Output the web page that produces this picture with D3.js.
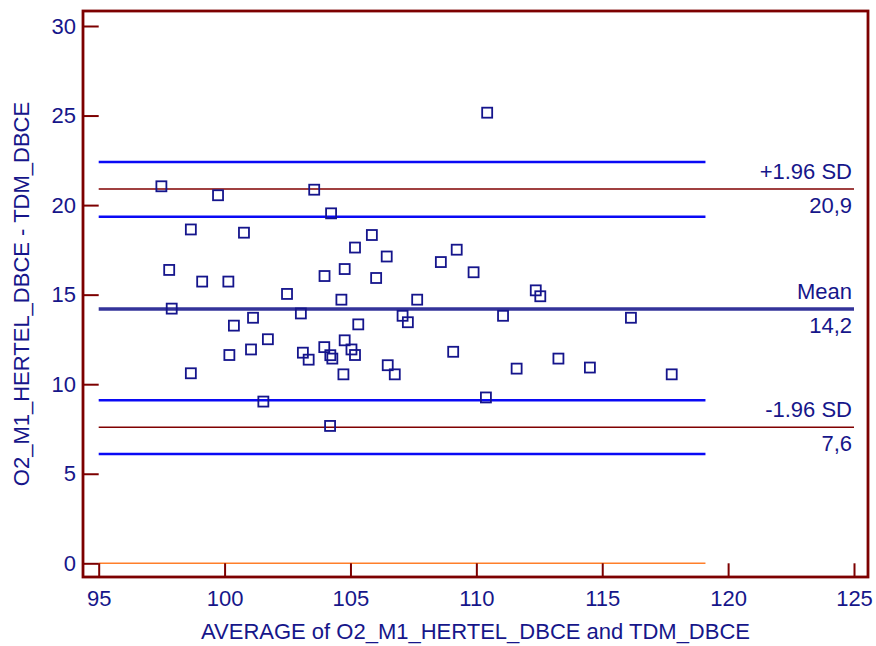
<!DOCTYPE html>
<html>
<head>
<meta charset="utf-8">
<script src="https://cdn.jsdelivr.net/npm/d3@7"></script>
<style>
  html, body { margin: 0; padding: 0; background: #ffffff; }
  svg { display: block; }
  text { font-family: "Liberation Sans", Arial, sans-serif; fill: #16168a; }
</style>
</head>
<body>
<svg id="chart" width="876" height="646"></svg>
<script>
// Bland-Altman plot: O2_M1_HERTEL_DBCE vs TDM_DBCE

// Mean of the two methods (x) for each subject
const averages = [
  97.49, 99.74, 103.56, 104.23, 98.66, 100.77, 105.85, 105.18, 109.22, 106.44,
  108.59, 97.80, 99.11, 100.15, 103.97, 104.77, 106.02, 109.89, 102.48, 104.64,
  107.65, 112.36, 112.54, 97.90, 103.03, 107.07, 107.28, 111.06, 116.14, 101.13,
  100.37, 105.31, 101.72, 104.77, 101.05, 100.19, 103.11, 103.34, 103.96, 104.20,
  104.28, 105.04, 105.18, 109.08, 106.48, 106.76, 98.66, 104.72, 111.60, 113.26,
  114.51, 117.76, 101.54, 110.38, 104.19, 110.43
];

// Difference between the two methods (y) for each subject
const differences = [
  21.05, 20.55, 20.86, 19.54, 18.64, 18.46, 18.33, 17.63, 17.51, 17.13,
  16.82, 16.38, 15.73, 15.73, 16.04, 16.43, 15.93, 16.25, 15.04, 14.72,
  14.72, 15.24, 14.91, 14.22, 13.95, 13.82, 13.46, 13.82, 13.71, 13.71,
  13.27, 13.34, 12.51, 12.45, 11.94, 11.63, 11.76, 11.37, 12.07, 11.62,
  11.43, 11.94, 11.63, 11.81, 11.06, 10.55, 10.61, 10.55, 10.87, 11.43,
  10.93, 10.55, 9.03, 9.26, 7.67, 25.16
];

// Agreement statistics
const limitNames  = ["+1.96 SD", "Mean", "-1.96 SD"];
const limitValues = [20.9, 14.2, 7.6];
// 95% confidence bounds of the upper and lower limits of agreement
const limitCIBounds = [22.4, 19.35, 9.1, 6.1];

// Horizontal extent (in x units) of the reference lines
const refLineStart = 95;
const refLineEnd   = 119.1;
const limitLineEnd = 125;

// Axis ticks
const xTicks = [95, 100, 105, 110, 115, 120, 125];
const yTicks = [0, 5, 10, 15, 20, 25, 30];

const xTitle = "AVERAGE of O2_M1_HERTEL_DBCE and TDM_DBCE";
const yTitle = "O2_M1_HERTEL_DBCE - TDM_DBCE";

// ---------------------------------------------------------------
const svg = d3.select("#chart");
const frame = { left: 83, right: 868, top: 11, bottom: 577 };
const FONT = 22;
const ink = "#16168a";
const maroon = "#7d0000";

const x = d3.scaleLinear().domain([95, 125]).range([98.7, 854]);
const y = d3.scaleLinear().domain([0, 30]).range([563.3, 26]);

const locale = d3.formatLocale({ decimal: ",", thousands: ".", grouping: [3], currency: ["", ""] });
const fmt = locale.format(".1f");

// Reference lines
const g = svg.append("g");

// zero line
g.append("line")
  .attr("x1", x(refLineStart)).attr("x2", x(refLineEnd))
  .attr("y1", y(0)).attr("y2", y(0))
  .attr("stroke", "#ff7f2a").attr("stroke-width", 1.5);

// confidence bounds of the limits of agreement
g.selectAll("line.ci").data(limitCIBounds).join("line")
  .attr("class", "ci")
  .attr("x1", x(refLineStart)).attr("x2", x(refLineEnd))
  .attr("y1", d => y(d)).attr("y2", d => y(d))
  .attr("stroke", "#0a0af5").attr("stroke-width", 2.5);

// limits of agreement
g.selectAll("line.loa").data([limitValues[0], limitValues[2]]).join("line")
  .attr("class", "loa")
  .attr("x1", x(refLineStart)).attr("x2", x(limitLineEnd))
  .attr("y1", d => y(d)).attr("y2", d => y(d))
  .attr("stroke", "#800000").attr("stroke-width", 1.4);

// mean difference
g.append("line")
  .attr("x1", x(refLineStart)).attr("x2", x(limitLineEnd))
  .attr("y1", y(limitValues[1])).attr("y2", y(limitValues[1]))
  .attr("stroke", "#33339a").attr("stroke-width", 3.6);

// Labels at the right end of each line
const labelX = 852;
limitNames.forEach((name, i) => {
  const v = limitValues[i];
  svg.append("text")
    .attr("x", labelX).attr("y", y(v) - 10)
    .attr("text-anchor", "end")
    .attr("font-size", FONT)
    .text(name);
  svg.append("text")
    .attr("x", labelX).attr("y", y(v) + 24)
    .attr("text-anchor", "end")
    .attr("font-size", FONT)
    .text(fmt(v));
});

// Data points
const pts = averages.map((a, i) => ({ a, d: differences[i] }));
const S = 10;
svg.append("g").selectAll("rect").data(pts).join("rect")
  .attr("x", p => x(p.a) - S / 2)
  .attr("y", p => y(p.d) - S / 2)
  .attr("width", S).attr("height", S)
  .attr("fill", "none")
  .attr("stroke", "#15158c")
  .attr("stroke-width", 1.8);

// Axes (ticks drawn inward from the frame)
const xAxis = d3.axisBottom(x)
  .tickValues(xTicks)
  .tickSizeInner(-(frame.bottom - y(0)))
  .tickSizeOuter(0)
  .tickPadding(13)
  .tickFormat(d3.format("d"));
const gx = svg.append("g")
  .attr("transform", `translate(0,${frame.bottom})`)
  .call(xAxis);

const yAxis = d3.axisLeft(y)
  .tickValues(yTicks)
  .tickSizeInner(-(x(95) - frame.left))
  .tickSizeOuter(0)
  .tickPadding(7)
  .tickFormat(d3.format("d"));
const gy = svg.append("g")
  .attr("transform", `translate(${frame.left},0)`)
  .call(yAxis);

[gx, gy].forEach(ax => {
  ax.select(".domain").remove();
  ax.selectAll(".tick line").attr("stroke", maroon).attr("stroke-width", 2);
  ax.selectAll(".tick text")
    .attr("fill", ink)
    .attr("font-size", FONT)
    .attr("font-family", "Liberation Sans, Arial, sans-serif");
});

// Frame
svg.append("rect")
  .attr("x", frame.left).attr("y", frame.top)
  .attr("width", frame.right - frame.left)
  .attr("height", frame.bottom - frame.top)
  .attr("fill", "none")
  .attr("stroke", maroon)
  .attr("stroke-width", 2.8);

// Axis titles
svg.append("text")
  .attr("x", (frame.left + frame.right) / 2)
  .attr("y", 639)
  .attr("text-anchor", "middle")
  .attr("font-size", FONT)
  .text(xTitle);

svg.append("text")
  .attr("transform", `translate(28.5,${(frame.top + frame.bottom) / 2}) rotate(-90)`)
  .attr("text-anchor", "middle")
  .attr("font-size", FONT)
  .attr("fill", "#1e1ea0")
  .text(yTitle);
</script>
</body>
</html>
